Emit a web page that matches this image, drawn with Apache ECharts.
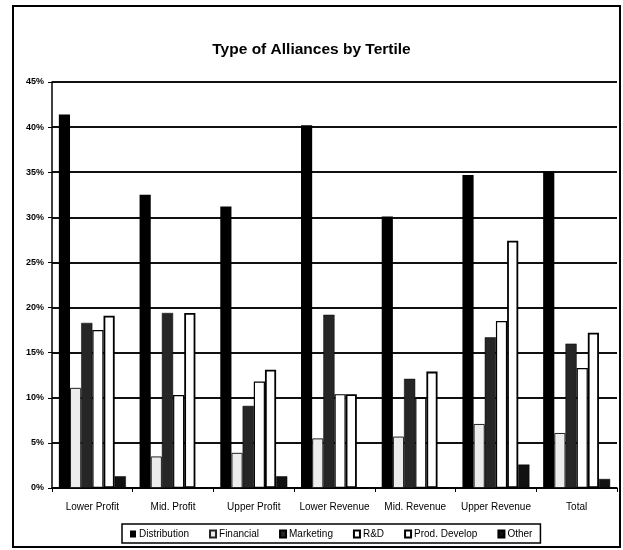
<!DOCTYPE html>
<html>
<head>
<meta charset="utf-8">
<script src="https://cdn.jsdelivr.net/npm/echarts@6/dist/echarts.min.js"></script>
<style>
  html, body { margin: 0; padding: 0; background: #fff; }
  #chart { width: 623px; height: 550px; }
</style>
</head>
<body>
<div id="chart"></div>
<script>
// Alliance types by tertile group, share of alliances (%)
const categories = ['Lower Profit', 'Mid. Profit', 'Upper Profit', 'Lower Revenue', 'Mid. Revenue', 'Upper Revenue', 'Total'];
const distribution = [41.4, 32.5, 31.2, 40.2, 30.1, 34.7, 35.1];
const financial    = [11.1, 3.5, 3.9, 5.5, 5.7, 7.1, 6.1];
const marketing    = [18.3, 19.4, 9.1, 19.2, 12.1, 16.7, 16.0];
const rnd          = [17.5, 10.3, 11.8, 10.4, 10.0, 18.5, 13.3];
const prodDevelop  = [19.1, 19.4, 13.1, 10.4, 12.9, 27.4, 17.2];
const other        = [1.3, 0, 1.3, 0, 0, 2.6, 1.0];
const yTicks = [0, 5, 10, 15, 20, 25, 30, 35, 40, 45];

const FONT = '"Liberation Sans", Arial, sans-serif';

function bar(name, data, fill, border, bw) {
  return {
    name: name,
    type: 'bar',
    data: data,
    barGap: '0%',
    barCategoryGap: '17%',
    itemStyle: { color: fill, borderColor: border, borderWidth: bw },
    emphasis: { disabled: true }
  };
}

const chart = echarts.init(document.getElementById('chart'), null, { renderer: 'canvas' });
chart.setOption({
  animation: false,
  backgroundColor: '#fff',
  title: {
    text: 'Type of Alliances by Tertile',
    left: 'center',
    top: 37,
    textStyle: { fontFamily: FONT, fontSize: 15.5, fontWeight: 'bold', color: '#000' }
  },
  grid: { left: 52, right: 6, top: 82, bottom: 62, containLabel: false },
  legend: {
    left: 122,
    top: 524,
    width: 420,
    itemWidth: 6,
    itemHeight: 7,
    itemGap: 20,
    icon: 'rect',
    padding: [5, 8, 4, 8],
    borderColor: '#000',
    borderWidth: 1.5,
    textStyle: { fontFamily: FONT, fontSize: 10, color: '#000', padding: [0, 0, 0, -2] },
    data: ['Distribution', 'Financial', 'Marketing', 'R&D', 'Prod. Develop', 'Other']
  },
  xAxis: {
    type: 'category',
    data: categories,
    axisLine: { lineStyle: { color: '#000', width: 1.5 } },
    axisTick: { show: true, length: 4, lineStyle: { color: '#000' } },
    axisLabel: { interval: 0, fontFamily: FONT, fontSize: 10, color: '#000', margin: 14 }
  },
  yAxis: {
    type: 'value',
    min: yTicks[0],
    max: yTicks[yTicks.length - 1],
    interval: 5,
    axisLine: { show: true, lineStyle: { color: '#000', width: 1.5 } },
    axisTick: { show: true, length: 4, lineStyle: { color: '#000' } },
    axisLabel: { fontFamily: FONT, fontSize: 9, fontWeight: 'bold', color: '#000', margin: 8, formatter: '{value}%' },
    splitLine: { show: true, lineStyle: { color: '#111', width: 2 } }
  },
  series: [
    bar('Distribution', distribution, '#000', '#000', 0),
    bar('Financial', financial, '#ececec', '#222', 1),
    bar('Marketing', marketing, '#262626', '#000', 0.5),
    bar('R&D', rnd, '#fff', '#000', 1.2),
    bar('Prod. Develop', prodDevelop, '#fff', '#000', 1.8),
    bar('Other', other, '#111', '#000', 0.5)
  ],
  graphic: [
    {
      type: 'rect',
      shape: { x: 13, y: 6, width: 607, height: 541 },
      style: { fill: 'none', stroke: '#000', lineWidth: 2 },
      silent: true,
      z: -1
    }
  ]
});
</script>
</body>
</html>
